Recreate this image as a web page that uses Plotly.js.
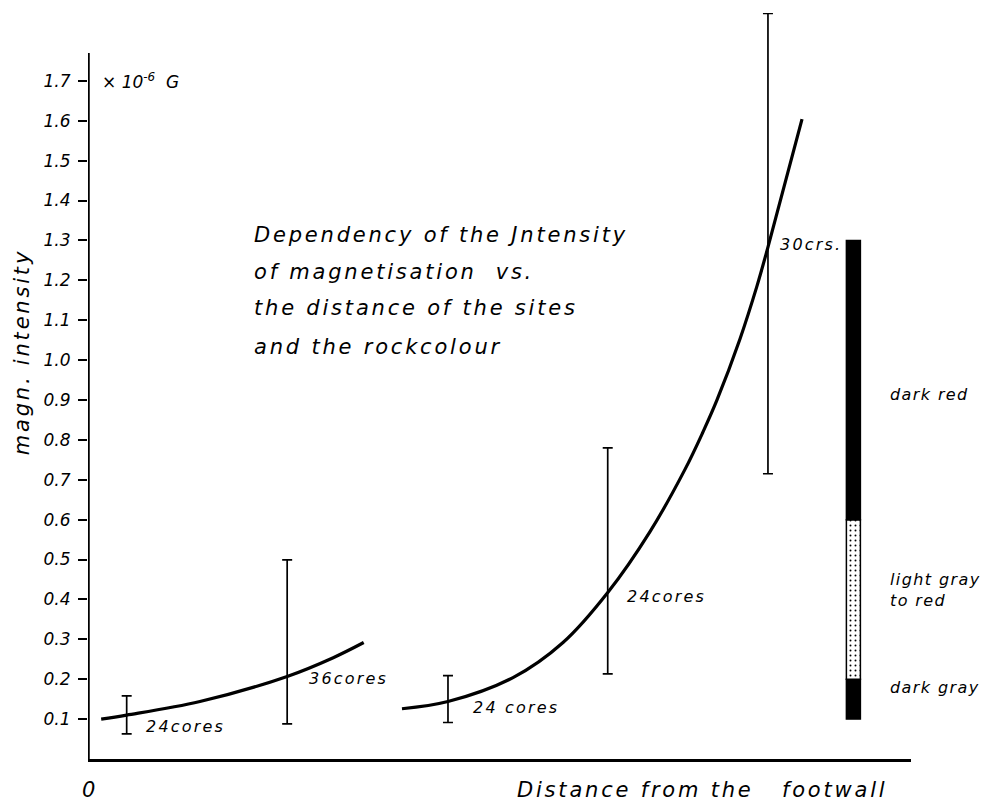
<!DOCTYPE html>
<html>
<head>
<meta charset="utf-8">
<script src="https://cdn.plot.ly/plotly-3.0.1.min.js"></script>
<style>html,body{margin:0;padding:0;background:#fff;}#chart{width:985px;height:806px;}</style>
</head>
<body>
<div id="chart"></div>
<script>
// ---- data (distance in arbitrary units from the footwall, intensity in 10^-6 G) ----
var curve1X = [1.6, 4.7, 13.6, 24.2, 29.8, 33.5];
var curve1Y = [0.100, 0.110, 0.144, 0.207, 0.254, 0.292];

var curve2X = [38.15, 43.74, 51.64, 57.72, 63.18, 68.29, 72.54, 74.73, 76.43, 79.22, 81.29, 82.62, 86.76];
var curve2Y = [0.126, 0.144, 0.204, 0.292, 0.418, 0.570, 0.726, 0.820, 0.900, 1.053, 1.186, 1.283, 1.604];

var siteX    = [4.7, 24.2, 43.74, 63.15, 82.62];
var siteMid  = [0.110, 0.207, 0.144, 0.418, 1.283];
var siteLow  = [0.063, 0.088, 0.0915, 0.2135, 0.715];
var siteHigh = [0.158, 0.499, 0.209, 0.780, 1.869];
var siteLabels = ["24cores", "36cores", "24 cores", "24cores", "30crs."];

var colourNames = ["dark gray", "light gray<br>to red", "dark red"];
var colourBase  = [0.1, 0.2, 0.6];
var colourTop   = [0.2, 0.6, 1.3];
var colourX     = 93.0;

var yTickVals = [0.1,0.2,0.3,0.4,0.5,0.6,0.7,0.8,0.9,1.0,1.1,1.2,1.3,1.4,1.5,1.6,1.7];
var yTickText = ["0.1","0.2","0.3","0.4","0.5","0.6","0.7","0.8","0.9","1.0","1.1","1.2","1.3","1.4","1.5","1.6","1.7"];

var titleLines = ["Dependency of the Jntensity", "of magnetisation  vs.", "the distance of the sites", "and the rockcolour"];

// ---- styling ----
var FONT = "DejaVu Sans, Liberation Sans, sans-serif";
function it(size){ return {family: FONT, size: size, color: "#000", style: "italic"}; }
function sp(txt, px){ return txt.split("<br>").map(function(s){
  return '<span style="letter-spacing:' + px + 'px">' + s + '</span>'; }).join("<br>"); }

var traces = [];
traces.push({x: curve1X, y: curve1Y, type: "scatter", mode: "lines",
  line: {color: "#000", width: 3.2, shape: "spline", smoothing: 1.0}});
traces.push({x: curve2X, y: curve2Y, type: "scatter", mode: "lines",
  line: {color: "#000", width: 3.2, shape: "spline", smoothing: 1.0}});

traces.push({x: siteX, y: siteMid, type: "scatter", mode: "markers",
  marker: {size: 1, opacity: 0},
  error_y: {type: "data", symmetric: false,
    array: siteHigh.map(function(h, i){ return h - siteMid[i]; }),
    arrayminus: siteLow.map(function(l, i){ return siteMid[i] - l; }),
    color: "#000", thickness: 1.7, width: 5}});

// colour column
var colFill = ["#000", "#fff", "#000"];
for (var i = 0; i < colourBase.length; i++) {
  var pat = (i === 1) ? {shape: ".", fgcolor: "#000", bgcolor: "#fff", size: 5, solidity: 0.12} : {shape: ""};
  traces.push({x: [colourX], y: [colourTop[i] - colourBase[i]], base: [colourBase[i]],
    type: "bar", width: 1.7,
    marker: {color: colFill[i], line: {color: "#000", width: 1.5}, pattern: pat}});
}

var ann = [];
// site labels
var labelPos = [[6.8, 0.081], [26.6, 0.201], [46.5, 0.128], [65.3, 0.407], [83.8, 1.289]];
for (var k = 0; k < siteLabels.length; k++) {
  ann.push({x: labelPos[k][0], y: labelPos[k][1], xref: "x", yref: "y", text: sp(siteLabels[k], 2.2),
    showarrow: false, xanchor: "left", yanchor: "middle", font: it(16)});
}
// colour labels
var colLabelY = [0.18, 0.423, 0.913];
for (var c = 0; c < colourNames.length; c++) {
  ann.push({x: 97.2, y: colLabelY[c], xref: "x", yref: "y", text: sp(colourNames[c], 1.4),
    showarrow: false, xanchor: "left", yanchor: "middle", align: "left", font: it(16)});
}
// title block
var titleY = [1.314, 1.221, 1.131, 1.033];
for (var t = 0; t < titleLines.length; t++) {
  ann.push({x: 19.95, y: titleY[t], xref: "x", yref: "y", text: sp(titleLines[t], 2.8),
    showarrow: false, xanchor: "left", yanchor: "middle", font: it(21)});
}
// unit label
ann.push({x: 1.5, y: 1.70, xref: "x", yref: "y", text: "× 10<sup>-6</sup>  G",
  showarrow: false, xanchor: "left", yanchor: "middle", font: it(17)});
// y title
ann.push({x: -0.080, y: 1.02, xref: "paper", yref: "y", text: sp("magn. intensity", 2.8), textangle: -90,
  showarrow: false, xanchor: "center", yanchor: "middle", font: it(21)});
// x labels
ann.push({x: 0, y: -0.0416, xref: "x", yref: "paper", text: "0",
  showarrow: false, xanchor: "center", yanchor: "middle", font: it(21)});
ann.push({x: 51.9, y: -0.0416, xref: "x", yref: "paper", text: sp("Distance from the   footwall", 2.8),
  showarrow: false, xanchor: "left", yanchor: "middle", font: it(21)});

var layout = {
  width: 985, height: 806,
  margin: {l: 88, r: 74, t: 13, b: 47, pad: 0},
  paper_bgcolor: "#fff", plot_bgcolor: "#fff",
  showlegend: false, hovermode: false, barmode: "overlay",
  xaxis: {range: [0, 100], showgrid: false, zeroline: false, showticklabels: false, ticks: "",
    showline: true, linecolor: "#000", linewidth: 3},
  yaxis: {range: [0, 1.87], showgrid: false, zeroline: false, showline: false,
    tickmode: "array", tickvals: yTickVals, ticktext: yTickText,
    ticks: "outside", ticklen: 9, tickwidth: 2, tickcolor: "#000", ticklabelstandoff: 4,
    tickfont: it(17)},
  shapes: [{type: "line", xref: "x", yref: "y", x0: 0, x1: 0, y0: 0, y1: 1.77,
    line: {color: "#000", width: 3.5}}],
  annotations: ann
};

Plotly.newPlot("chart", traces, layout, {staticPlot: true, displayModeBar: false});
</script>
</body>
</html>
